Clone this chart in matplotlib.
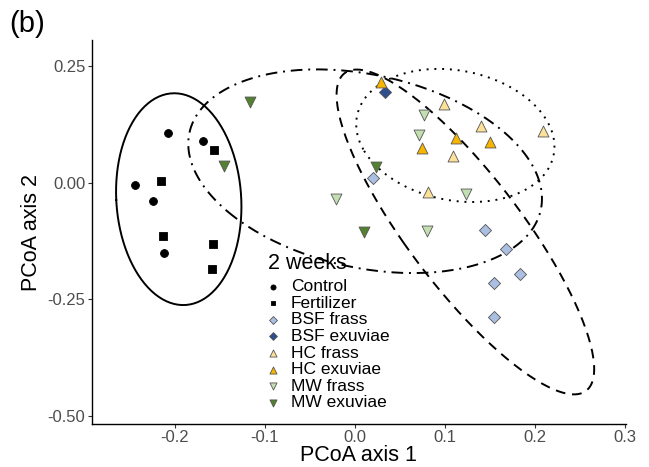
import numpy as np
import matplotlib
matplotlib.use("Agg")
import matplotlib.pyplot as plt

plt.rcParams['font.family'] = ['Liberation Sans', 'DejaVu Sans']

# PCoA scores (axis 1, axis 2)
control_x = [-0.207, -0.168, -0.244, -0.224, -0.212]
control_y = [0.107, 0.090, -0.004, -0.039, -0.150]
fert_x = [-0.156, -0.215, -0.213, -0.157, -0.158]
fert_y = [0.071, 0.004, -0.114, -0.131, -0.185]
bsf_frass_x = [0.020, 0.145, 0.168, 0.183, 0.155, 0.154]
bsf_frass_y = [0.010, -0.101, -0.142, -0.196, -0.215, -0.288]
bsf_exu_x = [0.034]
bsf_exu_y = [0.194]
hc_frass_x = [0.099, 0.140, 0.209, 0.109, 0.081]
hc_frass_y = [0.168, 0.121, 0.111, 0.058, -0.019]
hc_exu_x = [0.029, 0.112, 0.150, 0.075]
hc_exu_y = [0.216, 0.096, 0.087, 0.075]
mw_frass_x = [0.077, 0.071, -0.021, 0.123, 0.080]
mw_frass_y = [0.146, 0.103, -0.034, -0.024, -0.104]
mw_exu_x = [-0.116, -0.145, 0.024, 0.010]
mw_exu_y = [0.174, 0.035, 0.033, -0.106]

groups = [
    ("Control", control_x, control_y, "o", "black", 32),
    ("Fertilizer", fert_x, fert_y, "s", "black", 30),
    ("BSF frass", bsf_frass_x, bsf_frass_y, "D", "#AABFE2", 38),
    ("BSF exuviae", bsf_exu_x, bsf_exu_y, "D", "#2F4F8C", 38),
    ("HC frass", hc_frass_x, hc_frass_y, "^", "#FCE19B", 62),
    ("HC exuviae", hc_exu_x, hc_exu_y, "^", "#F7B500", 62),
    ("MW frass", mw_frass_x, mw_frass_y, "v", "#C3DFB2", 62),
    ("MW exuviae", mw_exu_x, mw_exu_y, "v", "#52822F", 62),
]


def conf_ellipse(x, y, level=0.9, npts=200):
    """Covariance ellipse of the points (normal approximation)."""
    x = np.asarray(x)
    y = np.asarray(y)
    cov = np.cov(x, y)
    vals, vecs = np.linalg.eigh(cov)
    scale = np.sqrt(-2 * np.log(1 - level))
    t = np.linspace(0, 2 * np.pi, npts)
    circ = np.vstack([np.cos(t), np.sin(t)])
    pts = vecs @ (np.sqrt(vals)[:, None] * circ) * scale
    return pts[0] + x.mean(), pts[1] + y.mean()


fig = plt.figure(figsize=(6.49, 4.67), dpi=100)
ax = fig.add_axes([0.1413, 0.0921, 0.8233, 0.8222])

# ellipses per treatment type
ell_sets = [
    (control_x + fert_x, control_y + fert_y, "-"),
    (bsf_frass_x + bsf_exu_x, bsf_frass_y + bsf_exu_y, (0, (5, 3.5))),
    (hc_frass_x + hc_exu_x, hc_frass_y + hc_exu_y, (0, (1, 3))),
    (mw_frass_x + mw_exu_x, mw_frass_y + mw_exu_y, (0, (6, 3, 1, 3))),
]
for ex, ey, ls in ell_sets:
    px, py = conf_ellipse(ex, ey)
    ax.plot(px, py, color="black", linestyle=ls, linewidth=1.4, zorder=1)

for name, gx, gy, m, c, s in groups:
    ec = c if name in ("Control", "Fertilizer") else "#555555"
    ax.scatter(gx, gy, marker=m, s=s, color=c, edgecolors=ec,
               linewidths=0.6, label=name, zorder=3)

ax.set_xlim(-0.292, 0.301)
ax.set_ylim(-0.517, 0.306)
ax.set_xticks([-0.2, -0.1, 0.0, 0.1, 0.2, 0.3])
ax.set_xticklabels(["-0.2", "-0.1", "0.0", "0.1", "0.2", "0.3"])
ax.set_yticks([-0.5, -0.25, 0.0, 0.25])
ax.set_yticklabels(["-0.50", "-0.25", "0.00", "0.25"])
ax.tick_params(colors="#333333", labelcolor="#4D4D4D", labelsize=12,
               length=3, width=0.8, pad=1.5)
for side in ("top", "right"):
    ax.spines[side].set_visible(False)
for side in ("left", "bottom"):
    ax.spines[side].set_linewidth(1.0)

ax.set_xlabel("PCoA axis 1", fontsize=15.5, labelpad=0)
ax.set_ylabel("PCoA axis 2", fontsize=15.5, labelpad=4)

leg = ax.legend(loc="upper left", bbox_to_anchor=(259 / 649, 1 - 244 / 467),
                bbox_transform=fig.transFigure, frameon=False,
                title="2 weeks", title_fontsize=15.5, fontsize=12.5,
                markerscale=0.65, handletextpad=0.75, labelspacing=0.08,
                handlelength=0.6, borderpad=0.0, alignment="left")
leg._legend_box.sep = 4

fig.text(0.014, 0.978, "(b)", fontsize=21, va="top", ha="left")

plt.savefig("out.png", dpi=100)
plt.close()
